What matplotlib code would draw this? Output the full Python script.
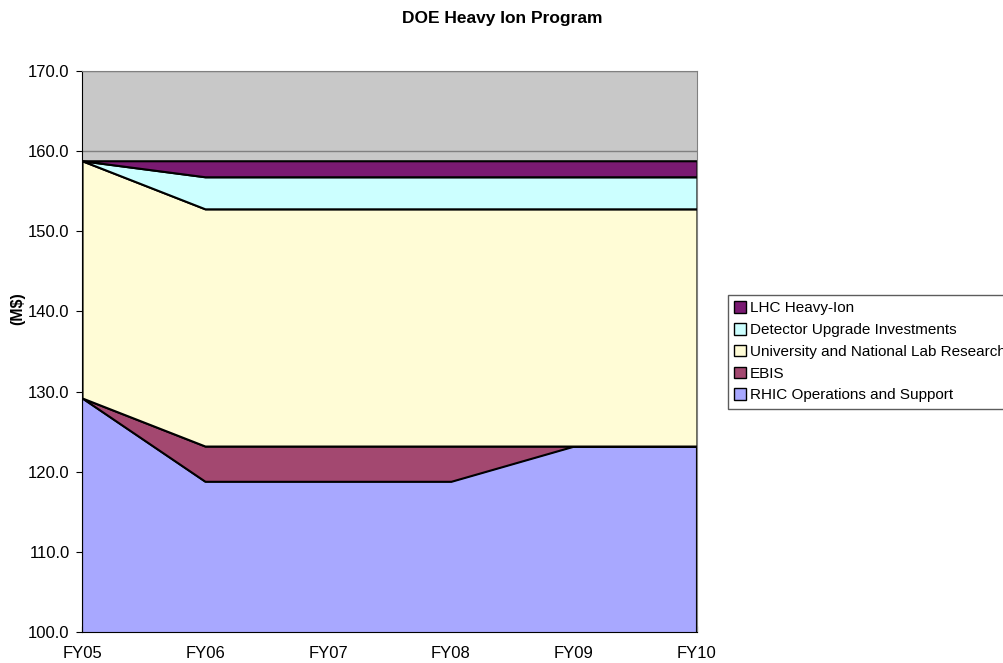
import matplotlib
matplotlib.use('Agg')
import matplotlib.pyplot as plt
from matplotlib.patches import Patch

plt.rcParams['font.family'] = ['Liberation Sans', 'DejaVu Sans']

years = ['FY05', 'FY06', 'FY07', 'FY08', 'FY09', 'FY10']
rhic = [129.2, 118.8, 118.8, 118.8, 123.2, 123.2]
ebis = [0.0, 4.4, 4.4, 4.4, 0.0, 0.0]
univ = [29.6, 29.6, 29.6, 29.6, 29.6, 29.6]
detector = [0.0, 4.0, 4.0, 4.0, 4.0, 4.0]
lhc = [0.0, 2.0, 2.0, 2.0, 2.0, 2.0]

names = ['RHIC Operations and Support', 'EBIS', 'University and National Lab Research',
         'Detector Upgrade Investments', 'LHC Heavy-Ion']
colors = ['#A8A8FF', '#A34870', '#FFFCD6', '#CCFFFF', '#7A1A72']

fig = plt.figure(figsize=(10.04, 6.63), dpi=100)
ax = fig.add_axes([0.0817, 0.0468, 0.6125, 0.8461])
ax.set_facecolor('#C8C8C8')

x = list(range(len(years)))
ax.stackplot(x, rhic, ebis, univ, detector, lhc, colors=colors,
             edgecolor='black', linewidth=1.5, zorder=2)

ax.set_xlim(0, 5)
ax.set_ylim(100, 170)
ax.set_yticks(range(100, 171, 10))
ax.set_yticklabels(['%.1f' % v for v in range(100, 171, 10)], fontsize=12)
ax.set_xticks(x)
ax.set_xticklabels(years, fontsize=12)
ax.tick_params(axis='x', direction='in', length=4, pad=10)
ax.tick_params(axis='y', direction='out', length=4, pad=5)
ax.grid(axis='y', color='#808080', linewidth=1, zorder=1)
ax.set_axisbelow(True)
for s in ax.spines.values():
    s.set_color('#808080')
ax.spines['left'].set_color('black')
ax.spines['bottom'].set_color('black')

fig.text(0.5, 0.972, 'DOE Heavy Ion Program', ha='center', va='center',
         fontsize=12.5, fontweight='bold')
fig.text(0.018, 0.535, '(M$)', rotation=90, ha='center', va='center',
         fontsize=11.5, fontweight='bold')

handles = [Patch(facecolor=c, edgecolor='black', label=n) for c, n in zip(colors, names)]
leg = fig.legend(handles[::-1], names[::-1], loc='upper left',
                 bbox_to_anchor=(0.725, 0.555), fontsize=11, frameon=True,
                 fancybox=False, borderpad=0.4, labelspacing=0.5,
                 handlelength=0.8, handleheight=0.8, handletextpad=0.25,
                 borderaxespad=0)
leg.get_frame().set_edgecolor('#333333')
leg.get_frame().set_linewidth(1)

fig.savefig('out.png', dpi=100)
